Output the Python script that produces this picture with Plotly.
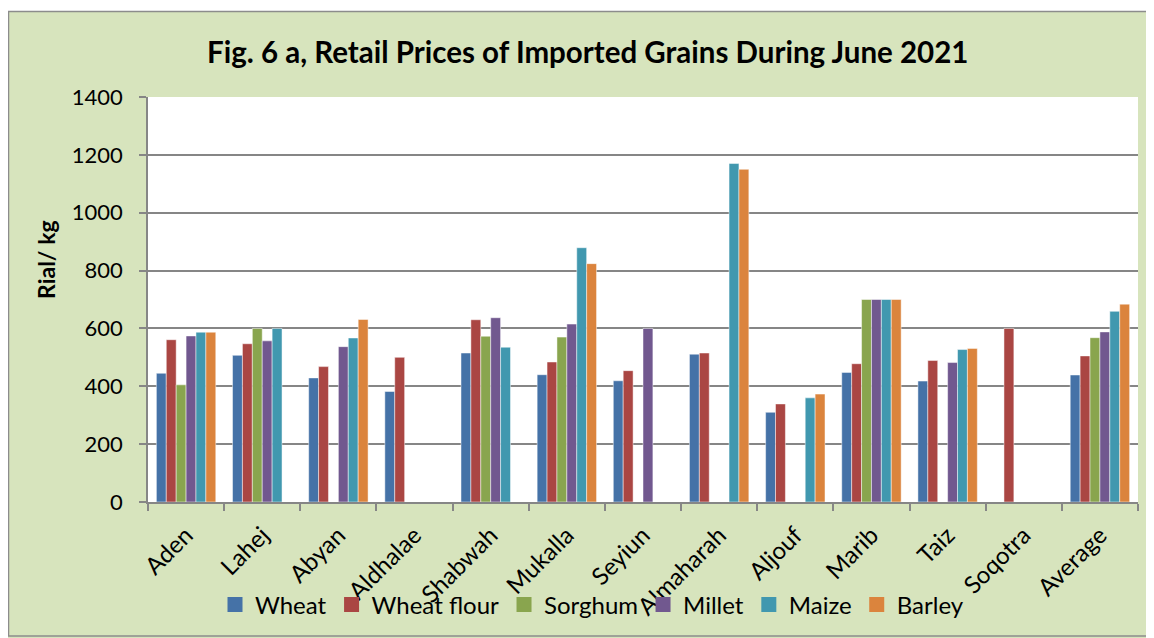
import plotly.graph_objects as go

categories = ["Aden", "Lahej", "Abyan", "Aldhalae", "Shabwah", "Mukalla", "Seyiun",
              "Almaharah", "Aljouf", "Marib", "Taiz", "Soqotra", "Average"]

wheat       = [445, 507, 429, 382, 515, 440, 419, 511, 310, 448, 418, None, 439]
wheat_flour = [561, 547, 468, 500, 630, 484, 454, 515, 339, 478, 489, 600, 505]
sorghum     = [405, 600, None, None, 573, 570, None, None, None, 700, None, None, 568]
millet      = [574, 557, 537, None, 637, 615, 600, None, None, 700, 482, None, 588]
maize       = [587, 600, 567, None, 535, 879, None, 1170, 360, 700, 527, None, 659]
barley      = [587, None, 631, None, None, 824, None, 1150, 373, 700, 531, None, 684]

series = [
    ("Wheat", wheat, "#4572A7"),
    ("Wheat flour", wheat_flour, "#AA4643"),
    ("Sorghum", sorghum, "#89A54E"),
    ("Millet", millet, "#71588F"),
    ("Maize", maize, "#4198AF"),
    ("Barley", barley, "#DB843D"),
]

FONT = "Lato, 'Liberation Sans', sans-serif"
GREEN = "#D7E4BD"

fig = go.Figure()
for name, vals, col in series:
    fig.add_trace(go.Bar(
        x=categories, y=vals, name=name, showlegend=False, legendgroup=name,
        marker=dict(color=col, line=dict(color="rgba(255,255,255,0.6)", width=0.8)),
    ))
# legend entries with larger square swatches
for name, vals, col in series:
    fig.add_trace(go.Scatter(
        x=[None], y=[None], name=name, mode="markers", legendgroup=name,
        marker=dict(symbol="square", size=15, color=col), hoverinfo="skip",
    ))

# page body has an 8px margin, so the figure sits at (8, 8) on screen
OFF = 8
W, H = 1146, 630
L, R, T, B = 140, 16, 89, 136
pw, ph = W - L - R, H - T - B

def px(x):  # screen x -> paper
    return (x - OFF - L) / pw

def py(y):  # screen y -> paper
    return (H - B - (y - OFF)) / ph

fig.update_layout(
    width=W, height=H,
    margin=dict(l=L, r=R, t=T, b=B, autoexpand=False),
    paper_bgcolor=GREEN,
    plot_bgcolor="white",
    barmode="group",
    bargap=0.22,
    bargroupgap=0,
    font=dict(family=FONT, size=22, color="black"),
    showlegend=True,
    legend=dict(orientation="h", x=px(592), xanchor="center", y=py(605), yanchor="middle",
                font=dict(size=24, family=FONT), bgcolor="rgba(0,0,0,0)",
                itemwidth=30, tracegroupgap=0),
    shapes=[
        dict(type="rect", xref="paper", yref="paper",
             x0=px(9), x1=px(147), y0=py(500), y1=py(95),
             fillcolor=GREEN, line=dict(width=0), layer="below"),
        dict(type="rect", xref="paper", yref="paper",
             x0=px(0), x1=px(1160), y0=py(11), y1=py(0),
             fillcolor="white", line=dict(width=0), layer="below"),
        dict(type="rect", xref="paper", yref="paper",
             x0=px(8.5), x1=px(1151), y0=py(636), y1=py(11.5),
             fillcolor="rgba(0,0,0,0)", line=dict(color="#8C8C8C", width=1.5), layer="below"),
    ],
    annotations=[
        dict(text="<b>Fig. 6 a, Retail Prices of Imported Grains During June 2021</b>",
             xref="paper", yref="paper", x=px(587), y=py(52), xanchor="center", yanchor="middle",
             showarrow=False, font=dict(size=29.5, family=FONT)),
        dict(text="<b>Rial/ kg</b>", xref="paper", yref="paper", x=px(46), y=py(260),
             xanchor="center", yanchor="middle", textangle=-90, showarrow=False,
             font=dict(size=23, family=FONT)),
    ],
)

fig.update_xaxes(
    type="category", tickangle=-45, ticks="outside", tickson="boundaries",
    ticklen=7, tickcolor="#868686", tickwidth=1.5, automargin=False,
    showline=True, linecolor="#868686", linewidth=1.5, ticklabelstandoff=8,
    showgrid=False, tickfont=dict(size=24, family=FONT),
)
fig.update_yaxes(
    range=[0, 1400], dtick=200, ticks="outside", ticklen=7, tickcolor="#868686",
    tickwidth=1.5, showline=True, linecolor="#868686", linewidth=1.5, automargin=False,
    showgrid=True, gridcolor="#868686", gridwidth=1.5, zeroline=False, ticklabelstandoff=12,
    tickfont=dict(size=22, family=FONT),
)

fig.write_html("out.html")
